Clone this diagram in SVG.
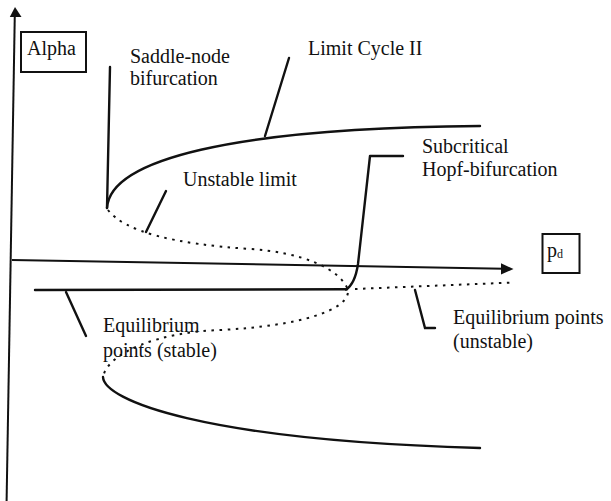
<svg xmlns="http://www.w3.org/2000/svg" width="611" height="501" viewBox="0 0 611 501">
  <defs>
    <style>
      .t { font-family: "Liberation Serif", "Times New Roman", serif; font-size: 20px; fill: #111; }
      .solid { fill: none; stroke: #111; stroke-width: 2.4; stroke-linecap: round; stroke-linejoin: round; }
      .dot { fill: none; stroke: #111; stroke-width: 2; stroke-dasharray: 2.5 5.5; stroke-linecap: butt; }
      .axis { fill: none; stroke: #111; stroke-width: 2; }
      .lead { fill: none; stroke: #111; stroke-width: 2.4; stroke-linecap: round; stroke-linejoin: miter; }
      .box { fill: #fff; stroke: #111; stroke-width: 2; }
    </style>
  </defs>
  <rect width="611" height="501" fill="#fff"/>

  <g id="axes">
    <line class="axis" x1="14.8" y1="14" x2="6.6" y2="501"/>
    <polygon points="15,7 9.8,17 21.5,17" fill="#111"/>
    <line class="axis" x1="12" y1="260" x2="504" y2="268.8"/>
    <polygon points="513.5,269 501,263.3 501,274.5" fill="#111"/>
  </g>

  <g id="curves">
    <path id="limit-cycle-upper" class="solid" d="M107,208 C110,160 230,128 480,126"/>
    <path id="unstable-branch" class="dot" d="M108,210 C125,232 175,244 250,249 C300,252 340,268 348,290 C350,310 300,326 220,330 C160,332 108,352 103,377"/>
    <path id="limit-cycle-lower" class="solid" d="M103,377 C104,400 200,440 480,448"/>
    <line id="eq-stable" class="solid" x1="35" y1="290" x2="347" y2="289.3"/>
    <line id="eq-unstable" class="dot" x1="355" y1="289" x2="513" y2="282.5"/>
  </g>

  <g id="connectors">
    <line class="lead" x1="110" y1="67" x2="107" y2="208"/>
    <line class="lead" x1="289" y1="58" x2="265" y2="136"/>
    <line class="lead" x1="166" y1="191" x2="146" y2="232"/>
    <path class="solid" d="M403,156 L370,156 L358,264 Q355,284 346,289.5"/>
    <line class="lead" x1="66" y1="292" x2="86" y2="336"/>
    <polyline class="lead" points="415,290 425,328 435,328"/>
  </g>

  <g id="node-alpha">
    <rect class="box" x="21" y="32" width="65" height="40"/>
    <text class="t" x="27" y="55">Alpha</text>
  </g>
  <g id="node-pd">
    <rect class="box" x="542.5" y="234" width="37" height="39"/>
    <text class="t" x="547" y="257">p<tspan font-size="12" dy="1">d</tspan></text>
  </g>
  <g id="label-saddle">
    <text class="t" x="130" y="63">Saddle-node</text>
    <text class="t" x="130" y="85">bifurcation</text>
  </g>
  <g id="label-limit-cycle">
    <text class="t" x="308" y="55">Limit Cycle II</text>
  </g>
  <g id="label-unstable-limit">
    <text class="t" x="183" y="186">Unstable limit</text>
  </g>
  <g id="label-hopf">
    <text class="t" x="422" y="153">Subcritical</text>
    <text class="t" x="422" y="176">Hopf-bifurcation</text>
  </g>
  <g id="label-eq-stable">
    <text class="t" x="103" y="332">Equilibrium</text>
    <text class="t" x="103" y="357">points (stable)</text>
  </g>
  <g id="label-eq-unstable">
    <text class="t" x="453" y="324">Equilibrium points</text>
    <text class="t" x="453" y="348">(unstable)</text>
  </g>
</svg>
